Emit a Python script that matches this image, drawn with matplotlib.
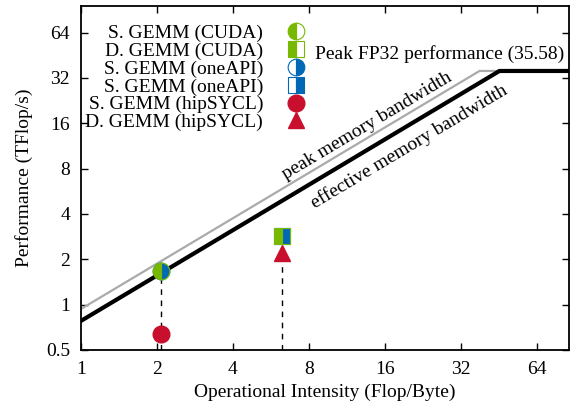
import numpy as np
import matplotlib
matplotlib.use('Agg')
import matplotlib.pyplot as plt

plt.rcParams['font.family'] = ['Liberation Serif']
plt.rcParams['font.size'] = 14

# roofline parameters (TFlop/s, TB/s)
peak_fp32 = 35.58
bw_peak = 0.936
bw_eff = 0.78
x_max = 86

# measured points: (intensity, performance)
labels = ['S. GEMM (CUDA)', 'D. GEMM (CUDA)', 'S. GEMM (oneAPI)',
          'S. GEMM (oneAPI)', 'S. GEMM (hipSYCL)', 'D. GEMM (hipSYCL)']
intensity = [2.07, 6.29, 2.07, 6.29, 2.07, 6.29]
perf = [1.66, 2.87, 1.66, 2.87, 0.636, 2.2]
markers = ['o', 's', 'o', 's', 'o', '^']
fills = ['left', 'left', 'right', 'right', 'full', 'full']

green = '#76b900'
blue = '#0068b5'
red = '#c8102e'
colors = [green, green, blue, blue, red, red]

fig = plt.figure(figsize=(5.72, 4.08), dpi=100)
ax = fig.add_axes([0.1416, 0.1422, 0.853, 0.843])

ax.set_xscale('log', base=2)
ax.set_yscale('log', base=2)

# rooflines
xr = np.array([1.0, peak_fp32 / bw_peak, x_max])
ax.plot(xr, np.minimum(bw_peak * xr, peak_fp32), color='#aaaaaa', lw=1.6, zorder=2)
xr = np.array([1.0, peak_fp32 / bw_eff, x_max])
ax.plot(xr, np.minimum(bw_eff * xr, peak_fp32), color='black', lw=3.0, zorder=3,
        solid_joinstyle='miter')

# dashed drop lines
ax.vlines([intensity[0], intensity[1]], 0.5, [perf[0], perf[5]],
          colors='black', linestyles=(0, (4, 4)), lw=1.0, zorder=1)

for i in range(len(labels)):
    if fills[i] == 'full':
        ax.plot(intensity[i], perf[i], marker=markers[i], ms=12, ls='none',
                color=colors[i], mec=colors[i], label=labels[i], zorder=5)
    else:
        ax.plot(intensity[i], perf[i], marker=markers[i], ms=12, ls='none',
                color=colors[i], mec=colors[i], fillstyle=fills[i],
                markerfacecoloralt='none', mew=0.8, label=labels[i],
                zorder=6 - i)

ax.text(315 / 572, 1 - 54 / 408, 'Peak FP32 performance (%.2f)' % peak_fp32,
        transform=fig.transFigure, ha='left', va='center')
ax.text(13.6, 15.4, 'peak memory bandwidth', rotation=30.8,
        ha='center', va='center', rotation_mode='anchor')
ax.text(20.1, 11.2, 'effective memory bandwidth', rotation=30.8,
        ha='center', va='center', rotation_mode='anchor')

ax.legend(loc='upper right', bbox_to_anchor=(0.461, 0.947), frameon=False,
          markerfirst=False, borderpad=0, borderaxespad=0, handlelength=1.0,
          handletextpad=1.2, labelspacing=0.01)

xt = [1, 2, 4, 8, 16, 32, 64]
yt = [0.5, 1, 2, 4, 8, 16, 32, 64]
ax.set_xlim(1, x_max)
ax.set_ylim(0.5, 96)
ax.set_xticks(xt)
ax.set_xticklabels([str(v) for v in xt])
ax.set_yticks(yt)
ax.set_yticklabels(['0.5'] + [str(v) for v in yt[1:]])
ax.minorticks_off()
ax.tick_params(direction='in', length=5, width=1, top=True, right=True, pad=8)
for s in ax.spines.values():
    s.set_linewidth(1.3)

ax.set_xlabel('Operational Intensity (Flop/Byte)', labelpad=4)
ax.set_ylabel('Performance (TFlop/s)', labelpad=9)

fig.savefig('out.png', dpi=100)
